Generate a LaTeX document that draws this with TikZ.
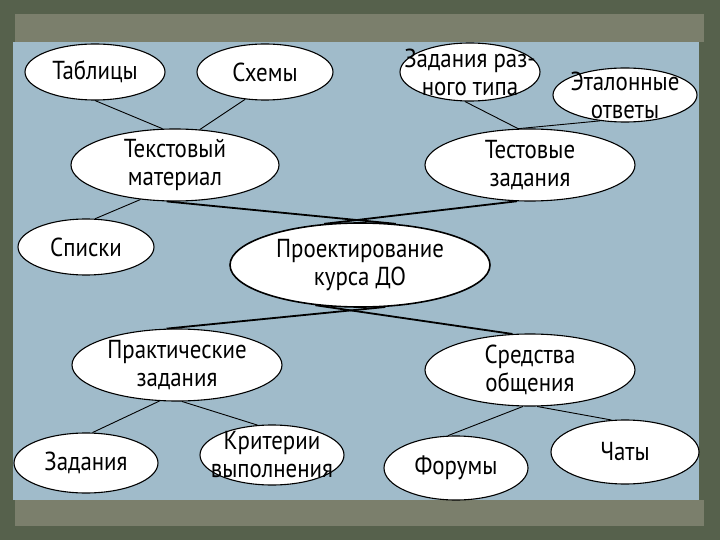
\documentclass[tikz,border=0pt]{standalone}
\usepackage{fontspec}
\setmainfont{PT Sans}[FakeStretch=0.88]
\usetikzlibrary{shapes.geometric}
\definecolor{bgdark}{HTML}{56614C}
\definecolor{strip}{HTML}{7B7F6C}
\definecolor{panel}{HTML}{A0BBCA}
\begin{document}
\begin{tikzpicture}[x=1pt,y=-1pt,
  ell/.style={ellipse, draw=black, line width=1.1pt, fill=white, inner sep=0pt},
  lbl/.style={align=center, font=\fontsize{26}{28}\selectfont, inner sep=0pt},
  link/.style={line width=0.9pt, black},
  trunk/.style={line width=1.8pt, black}]
\useasboundingbox (0,0) rectangle (720,540);
\fill[bgdark] (0,0) rectangle (720,540);
\fill[strip] (15,14) rectangle (704,42);
\fill[strip] (15,500) rectangle (704,526);
\fill[panel] (13,42) rectangle (699,500);

\node[ell, minimum width=140pt, minimum height=56pt, label={[lbl]center:Таблицы}] (tabl) at (95,72) {};
\node[ell, minimum width=136pt, minimum height=56pt, label={[lbl]center:Схемы}] (schem) at (265,72) {};
\node[ell, minimum width=140pt, minimum height=58pt, label={[lbl]center:{Задания раз-\\ного типа}}] (zrt) at (470,72) {};
\node[ell, minimum width=144pt, minimum height=54pt, label={[lbl]center:{Эталонные\\ответы}}] (etal) at (625,95) {};
\node[ell, minimum width=208pt, minimum height=72pt, label={[lbl]center:{Текстовый\\материал}}] (text) at (175,165) {};
\node[ell, minimum width=210pt, minimum height=72pt, label={[lbl]center:{Тестовые\\задания}}] (test) at (530,165) {};
\node[ell, minimum width=136pt, minimum height=56pt, label={[lbl]center:Списки}] (spis) at (86,247) {};
\node[ell, minimum width=260pt, minimum height=84pt, line width=1.6pt, label={[lbl]center:{Проектирование\\курса ДО}}] (proj) at (360,265) {};
\node[ell, minimum width=210pt, minimum height=72pt, label={[lbl]center:{Практические\\задания}}] (prak) at (177,365) {};
\node[ell, minimum width=210pt, minimum height=72pt, label={[lbl]center:{Средства\\общения}}] (sred) at (530,370) {};
\node[ell, minimum width=144pt, minimum height=60pt, label={[lbl]center:Задания}] (zad) at (86,463) {};
\node[ell, minimum width=144pt, minimum height=60pt, label={[lbl]center:{Критерии\\выполнения}}] (krit) at (272,455) {};
\node[ell, minimum width=144pt, minimum height=64pt, label={[lbl]center:Форумы}] (forum) at (456,468) {};
\node[ell, minimum width=148pt, minimum height=64pt, label={[lbl]center:Чаты}] (chat) at (625,452) {};

\draw[link] (tabl.south) -- (text.109);
\draw[link] (schem.234) -- (text.55);
\draw[link] (text.225) -- (spis.72);
\draw[trunk] (text.257) -- (proj.49);
\draw[trunk] (test.250) -- (proj.131);
\draw[link] (zrt.260) -- (test.108);
\draw[link] (etal.226) -- (test.108);
\draw[trunk] (proj.301) -- (prak.106);
\draw[trunk] (proj.222) -- (sred.116);
\draw[link] (prak.244) -- (zad.78);
\draw[link] (prak.278) -- (krit.116);
\draw[link] (sred.259) -- (forum.104);
\draw[link] (sred.281) -- (chat.113);
\end{tikzpicture}
\end{document}
